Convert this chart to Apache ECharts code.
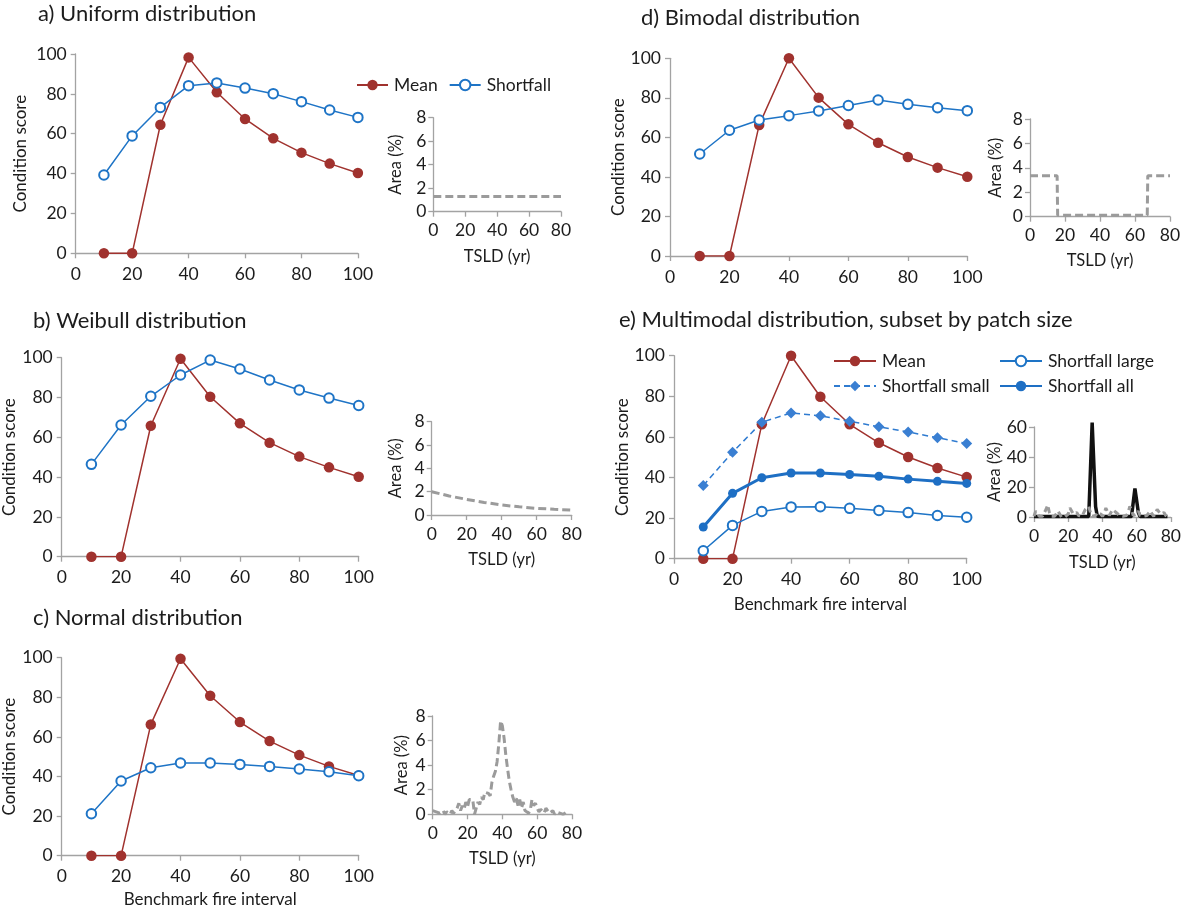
<!DOCTYPE html>
<html>
<head>
<meta charset="utf-8">
<script src="https://cdn.jsdelivr.net/npm/echarts/dist/echarts.min.js"></script>
<style>
html,body{margin:0;padding:0;background:#fff;}
#c{width:1184px;height:915px;}
</style>
</head>
<body>
<div id="c"></div>
<script>
// ---------- data ----------
const fireInterval = [10, 20, 30, 40, 50, 60, 70, 80, 90, 100];

const meanA      = [0, 0, 64.5, 98.3, 80.8, 67.4, 57.7, 50.5, 45.0, 40.3];
const shortfallA = [39.3, 58.9, 73.2, 84.1, 85.5, 82.9, 80.1, 76.1, 71.9, 68.2];

const meanB      = [0, 0, 65.8, 99.5, 80.4, 67.0, 57.3, 50.3, 44.9, 40.2];
const shortfallB = [46.4, 66.2, 80.6, 91.3, 98.8, 94.3, 88.8, 83.8, 79.7, 76.0];

const meanC      = [0, 0, 66.3, 99.5, 80.8, 67.5, 57.9, 50.8, 45.1, 40.5];
const shortfallC = [21.2, 37.7, 44.4, 46.8, 46.8, 46.1, 45.1, 43.8, 42.4, 40.4];

const meanD      = [0, 0, 66.3, 100, 80.1, 66.6, 57.3, 50.1, 44.7, 40.1];
const shortfallD = [51.6, 63.6, 68.8, 71.0, 73.4, 76.1, 78.9, 76.7, 75.0, 73.5];

const meanE           = [0, 0, 66.2, 100, 79.8, 66.2, 57.1, 50.1, 44.7, 40.2];
const shortfallLargeE = [3.9, 16.4, 23.3, 25.5, 25.6, 24.8, 23.8, 22.7, 21.3, 20.4];
const shortfallSmallE = [36.0, 52.4, 67.2, 71.8, 70.4, 67.7, 65.0, 62.4, 59.6, 56.7];
const shortfallAllE   = [15.6, 32.2, 39.9, 42.2, 42.2, 41.5, 40.6, 39.2, 38.1, 37.1];

// insets: TSLD (yr) vs Area (%)
const tsldA = [0, 80];
const areaA = [1.3, 1.3];

const tsldB = [0, 10, 20, 30, 40, 50, 60, 70, 80];
const areaB = [2.0, 1.63, 1.34, 1.08, 0.86, 0.70, 0.57, 0.49, 0.42];

const tsldC = [0,1,2,3,4,5,6,7,8,9,10,11,12,13,14,15,16,17,18,19,20,21,22,23,24,25,26,27,28,29,30,31,32,33,34,35,36,37,38,39,40,41,42,43,44,45,46,47,48,49,50,51,52,53,54,55,56,57,58,59,60,61,62,63,64,65,66,67,68,69,70,71,72,73,74,75,76,77];
const areaC = [0.3,0.3,0.2,0.3,0.1,0.2,0.3,0.0,0.2,0.1,0.0,0.3,0.1,0.0,0.5,0.9,0.3,0.7,0.4,1.0,0.6,1.2,1.1,1.2,0.0,0.5,1.0,0.8,1.4,1.2,1.8,1.9,1.7,1.5,2.6,3.1,3.5,4.3,5.8,7.6,7.2,6.2,4.8,3.7,2.7,2.0,1.4,1.0,1.3,0.7,1.2,0.5,1.0,0.3,0.4,0.1,0.3,1.2,0.7,0.9,0.5,0.2,0.4,0.3,0.1,0.5,0.3,0.1,0.2,0.3,0.0,0.2,0.1,0.1,0.2,0.0,0.1,0.2];

const tsldD = [0, 15.5, 15.8, 67.0, 67.3, 80];
const areaD = [3.35, 3.35, 0.12, 0.12, 3.35, 3.35];

const tsldE = [0,1,2,3,4,5,6,7,8,9,10,11,12,13,14,15,16,17,18,19,20,21,22,23,24,25,26,27,28,29,30,31,32,33,34,35,36,37,38,39,40,41,42,43,44,45,46,47,48,49,50,51,52,53,54,55,56,57,58,59,60,61,62,63,64,65,66,67,68,69,70,71,72,73,74,75,76,77,78];
const areaSmallE = [0.5,4,3,0.5,0,0.5,1,5,8,3,0.5,0,0.5,2,4,2,0,0.5,0,1,2,6,7,2,1,3,1,0,0.5,1,5,6,7,3,0.5,0,1,3,4,2,0.5,2,6,5,1,0.5,5,6,3,3,1,0,0.5,0,1,3,7,5,1,0.5,2,4,1,0,0.5,0,1,2,4,2,0.5,1,5,6,2,1,3,1,0];
const areaLargeE = [0.3,0.3,0.3,0.3,0.3,0.3,0.3,0.3,0.3,0.3,0.3,0.3,0.3,0.3,0.3,0.3,0.3,0.3,0.3,0.3,0.3,0.3,0.3,0.3,0.3,0.3,0.3,0.3,0.3,0.3,0.3,0.3,0.3,0.3,63,64,7,0.5,0.3,0.3,0.3,0.3,0.3,0.3,0.3,0.3,0.3,0.3,0.3,0.3,0.3,0.3,0.3,0.3,0.3,0.3,0.3,0.3,0.3,19,20,3,0.3,0.3,0.3,0.3,0.3,0.3,0.3,0.3,0.3,0.3,0.3,0.3,0.3,0.3,0.3,0.3,0.3];

// ---------- style ----------
const F = 'Lato, "Open Sans", sans-serif';
const TXT = '#1c1c1c';
const AX = '#a3a3a3';
const RED = '#a0322e';
const BLUE = '#1e74c6';
const GREY = '#9b9b9b';

const pairs = (xs, ys) => xs.map((x, i) => [x, ys[i]]);

// grids: [left, top, width, height]
const grids = [
  [75.7, 54, 282.2, 199.3],    // 0 a main
  [61.7, 357.7, 297, 199],     // 1 b main
  [61.7, 657.7, 297, 198],     // 2 c main
  [670, 58.3, 297.3, 197.7],   // 3 d main
  [674, 355.7, 292.7, 203],    // 4 e main
  [433.3, 117.7, 127.7, 94],   // 5 a inset
  [431.7, 421.7, 140, 93.3],   // 6 b inset
  [432.7, 716, 139.3, 98.3],   // 7 c inset
  [1030, 119, 140, 97.7],      // 8 d inset
  [1034, 427, 138, 90]         // 9 e inset
];

function axisBase(gi, min, max, interval, fs) {
  return {
    type: 'value', gridIndex: gi, min: min, max: max, interval: interval,
    axisLine: { show: true, onZero: false, lineStyle: { color: AX, width: 1.3 } },
    axisTick: { show: true, length: 5, lineStyle: { color: AX, width: 1.3 } },
    axisLabel: { fontSize: fs, color: TXT, fontFamily: F },
    splitLine: { show: false },
    nameLocation: 'middle',
    nameTextStyle: { fontSize: 17, color: TXT, fontFamily: F }
  };
}

const xAxes = [], yAxes = [];
// main panels
const mainXName = ['', '', 'Benchmark fire interval', '', 'Benchmark fire interval'];
const mainXGap = [0, 0, 35, 0, 37];
const mainYGap = [47, 35, 35, 33, 32];
for (let i = 0; i < 5; i++) {
  const xa = axisBase(i, 0, 100, 20, 17.5);
  xa.axisLabel.margin = 12;
  xa.name = mainXName[i];
  xa.nameGap = mainXGap[i];
  xAxes.push(xa);
  const ya = axisBase(i, 0, 100, 20, 17.5);
  ya.axisLabel.margin = 9;
  ya.name = 'Condition score';
  ya.nameGap = mainYGap[i];
  yAxes.push(ya);
}
// insets
const insetYGap = [29, 28, 23, 26, 31];
const insetXGap = [36, 36, 36, 35, 37];
for (let i = 0; i < 5; i++) {
  const gi = 5 + i;
  const xa = axisBase(gi, 0, 80, 20, 17.5);
  xa.axisLabel.margin = 10;
  xa.name = 'TSLD (yr)';
  xa.nameGap = insetXGap[i];
  xa.nameTextStyle.fontSize = 16.5;
  xAxes.push(xa);
  const ya = i === 4 ? axisBase(gi, 0, 60, 20, 17.5) : axisBase(gi, 0, 8, 2, 17.5);
  ya.axisLabel.margin = 7;
  ya.name = 'Area (%)';
  ya.nameGap = insetYGap[i];
  ya.nameTextStyle.fontSize = 16.5;
  yAxes.push(ya);
}

function meanSeries(gi, ys) {
  return {
    name: 'Mean', type: 'line', xAxisIndex: gi, yAxisIndex: gi,
    data: pairs(fireInterval, ys),
    symbol: 'circle', symbolSize: 10.5,
    lineStyle: { color: RED, width: 1.5 },
    itemStyle: { color: RED },
    z: 2
  };
}
function shortSeries(gi, ys, name) {
  return {
    name: name || 'Shortfall', type: 'line', xAxisIndex: gi, yAxisIndex: gi,
    data: pairs(fireInterval, ys),
    symbol: 'emptyCircle', symbolSize: 9.5,
    lineStyle: { color: BLUE, width: 1.5 },
    itemStyle: { color: BLUE, borderWidth: 1.5 },
    z: 3
  };
}
function greyDash(gi, xs, ys, name) {
  return {
    name: name, type: 'line', xAxisIndex: gi, yAxisIndex: gi,
    data: pairs(xs, ys), symbol: 'none',
    lineStyle: { color: GREY, width: 3, type: [8, 4] },
    z: 3
  };
}

const series = [
  meanSeries(0, meanA), shortSeries(0, shortfallA),
  meanSeries(1, meanB), shortSeries(1, shortfallB),
  meanSeries(2, meanC), shortSeries(2, shortfallC),
  meanSeries(3, meanD), shortSeries(3, shortfallD),
  meanSeries(4, meanE),
  shortSeries(4, shortfallLargeE, 'Shortfall large'),
  {
    name: 'Shortfall small', type: 'line', xAxisIndex: 4, yAxisIndex: 4,
    data: pairs(fireInterval, shortfallSmallE),
    symbol: 'diamond', symbolSize: 11,
    lineStyle: { color: '#2f7bd0', width: 1.5, type: [6, 4] },
    itemStyle: { color: '#3a7fd2' }, z: 2
  },
  {
    name: 'Shortfall all', type: 'line', xAxisIndex: 4, yAxisIndex: 4,
    data: pairs(fireInterval, shortfallAllE),
    symbol: 'circle', symbolSize: 9,
    lineStyle: { color: '#1e6fc4', width: 3 },
    itemStyle: { color: '#1e6fc4' }, z: 3
  },
  greyDash(5, tsldA, areaA, 'areaA'),
  greyDash(6, tsldB, areaB, 'areaB'),
  greyDash(7, tsldC, areaC, 'areaC'),
  greyDash(8, tsldD, areaD, 'areaD'),
  {
    name: 'areaLargeE', type: 'line', xAxisIndex: 9, yAxisIndex: 9,
    data: pairs(tsldE, areaLargeE), symbol: 'none', clip: false,
    lineStyle: { color: '#111', width: 3.5 }, z: 2
  },
  {
    name: 'areaSmallE', type: 'line', xAxisIndex: 9, yAxisIndex: 9,
    data: pairs(tsldE, areaSmallE), symbol: 'none',
    lineStyle: { color: GREY, width: 3, type: [6, 4] }, z: 3
  }
];

function title(text, left, cy) {
  return {
    text: text, left: left, top: cy - 13, padding: 0,
    textStyle: { fontSize: 22, fontWeight: 'normal', color: TXT, fontFamily: F }
  };
}

function legend(names, left, cy, iw) {
  return {
    data: names, left: left, top: cy - 10, padding: 0,
    orient: 'horizontal', itemWidth: iw, itemHeight: 13, itemGap: 11,
    selectedMode: false,
    textStyle: { fontSize: 17.5, color: TXT, fontFamily: F, padding: [0, 0, 0, 1] }
  };
}

const option = {
  animation: false,
  backgroundColor: '#ffffff',
  title: [
    title('a) Uniform distribution', 38, 16),
    title('b) Weibull distribution', 33, 323),
    title('c) Normal distribution', 33, 620),
    title('d) Bimodal distribution', 641, 20),
    title('e) Multimodal distribution, subset by patch size', 619, 322)
  ],
  legend: [
    legend(['Mean', 'Shortfall'], 356, 86, 31),
    legend(['Mean'], 833, 362, 42),
    legend(['Shortfall large'], 999, 362, 42),
    legend(['Shortfall small'], 833, 387, 42),
    legend(['Shortfall all'], 999, 387, 42)
  ],
  grid: grids.map(g => ({ left: g[0], top: g[1], width: g[2], height: g[3], containLabel: false })),
  xAxis: xAxes,
  yAxis: yAxes,
  series: series
};

const chart = echarts.init(document.getElementById('c'), null, { renderer: 'canvas' });
chart.setOption(option);
</script>
</body>
</html>
